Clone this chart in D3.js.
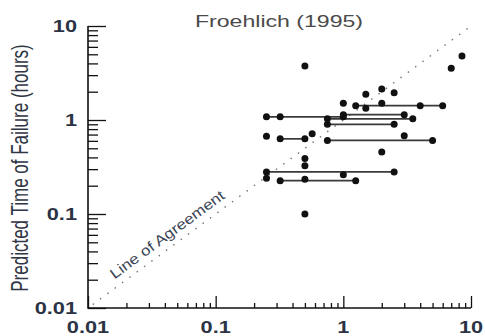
<!DOCTYPE html>
<html>
<head>
<meta charset="utf-8">
<script src="https://cdn.jsdelivr.net/npm/d3@7"></script>
<style>
  html, body { margin: 0; padding: 0; background: #fff; }
  svg { display: block; font-family: "Liberation Sans", Arial, sans-serif; }
</style>
</head>
<body>
<svg class="chart" width="485" height="336"></svg>
<script>
// observed vs predicted time of failure (hours)
const obsTime  = [0.5, 8.5, 7, 1.5, 2.0, 2.5, 1.0, 2.0, 1.25, 1.5, 4, 6,
                  0.25, 0.32, 1.0, 1.0, 3.0, 0.75, 3.5, 0.75, 2.5,
                  0.25, 0.32, 0.5, 0.57, 3.0, 0.75, 5,
                  2.0, 0.5, 0.5, 0.25, 2.5, 1.0, 0.25, 0.32, 0.5, 1.25, 0.5];
const predTime = [3.75, 4.8, 3.55, 1.88, 2.14, 1.95, 1.51, 1.51, 1.42, 1.33, 1.42, 1.42,
                  1.08, 1.08, 1.08, 1.14, 1.14, 1.03, 1.03, 0.9, 0.9,
                  0.67, 0.63, 0.63, 0.715, 0.68, 0.607, 0.607,
                  0.457, 0.39, 0.327, 0.28, 0.28, 0.262, 0.24, 0.226, 0.234, 0.226, 0.1];

// horizontal ranges of observed times
const rangeLo = [0.25, 1.0, 0.75, 0.75, 1.25, 0.32, 0.75, 0.25, 0.32];
const rangeHi = [1.0, 3.0, 3.5, 2.5, 6, 0.5, 5, 2.5, 1.25];
const rangeY  = [1.08, 1.14, 1.03, 0.9, 1.42, 0.63, 0.607, 0.28, 0.226];

const tickValues = [0.01, 0.1, 1, 10];
const tickLabels = ["0.01", "0.1", "1", "10"];

const svg = d3.select(".chart");
const sx = 1.358; // the figure is stretched sideways

const x = d3.scaleLog().domain([0.01, 10]).range([88, 471]);
const y = d3.scaleLog().domain([0.01, 10]).range([308, 26]);

const minor = [];
for (let d = 0.01; d < 10; d *= 10) {
    for (let k = 2; k <= 9; k++) minor.push(+(d * k).toPrecision(3));
}

// line of agreement
svg.append('line')
    .attr('x1', x(0.011)).attr('y1', y(0.011))
    .attr('x2', x(10)).attr('y2', y(10))
    .attr('stroke', '#777')
    .attr('stroke-width', 1.6)
    .attr('stroke-linecap', 'round')
    .attr('stroke-dasharray', '0.1,9');

// angle of the diagonal on screen
const dx = x(10) - x(0.01), dy = y(0.01) - y(10);
const ang = Math.atan2(dy, dx) * 180 / Math.PI;

svg.append('text')
    .attr('transform', `translate(${x(0.044)},${y(0.044) - 9}) rotate(${-ang})`)
    .attr('text-anchor', 'middle')
    .attr('font-size', 14.5)
    .attr('fill', '#3c4556')
    .attr('textLength', 138)
    .attr('lengthAdjust', 'spacingAndGlyphs')
    .text('Line of Agreement');

// ranges
svg.append('g').selectAll('line').data(d3.range(rangeLo.length))
    .enter().append('line')
    .attr('x1', i => x(rangeLo[i]))
    .attr('x2', i => x(rangeHi[i]))
    .attr('y1', i => y(rangeY[i]))
    .attr('y2', i => y(rangeY[i]))
    .attr('stroke', '#3a3a3a')
    .attr('stroke-width', 1.7);

// points
svg.append('g').selectAll('circle').data(d3.range(obsTime.length))
    .enter().append('circle')
    .attr('cx', i => x(obsTime[i]))
    .attr('cy', i => y(predTime[i]))
    .attr('r', 3.5)
    .attr('fill', '#111');

// axes
const axisY = svg.append('g').attr('transform', 'translate(88,0)');
axisY.call(d3.axisRight(y).tickValues(tickValues).tickSize(18).tickFormat(''));
axisY.append('g').call(d3.axisRight(y).tickValues(minor).tickSize(10).tickFormat(''));

const axisX = svg.append('g').attr('transform', 'translate(0,308)');
axisX.call(d3.axisTop(x).tickValues(tickValues).tickSize(12).tickFormat(''));
axisX.append('g').call(d3.axisTop(x).tickValues(minor).tickSize(5).tickFormat(''));

svg.selectAll('.domain').remove();
svg.selectAll('.tick line').attr('stroke', '#111').attr('stroke-width', 1.3);

svg.append('path')
    .attr('d', `M88,${y(10)}V308H${x(10)}`)
    .attr('fill', 'none')
    .attr('stroke', '#111')
    .attr('stroke-width', 1.6);

// tick labels
svg.append('g').selectAll('g').data(tickValues)
    .enter().append('g')
    .attr('transform', d => `translate(77,${y(d) + 6}) scale(${sx},1)`)
    .append('text')
    .attr('text-anchor', 'end')
    .attr('font-size', 16)
    .attr('font-weight', 'bold')
    .attr('fill', '#2b3344')
    .text((d, i) => tickLabels[i]);

svg.append('g').selectAll('g').data(tickValues)
    .enter().append('g')
    .attr('transform', d => `translate(${x(d)},333) scale(${sx},1)`)
    .append('text')
    .attr('text-anchor', 'middle')
    .attr('font-size', 16)
    .attr('font-weight', 'bold')
    .attr('fill', '#2b3344')
    .text((d, i) => tickLabels[i]);

// titles
svg.append('text')
    .attr('transform', `translate(279,27) scale(${sx},1)`)
    .attr('text-anchor', 'middle')
    .attr('font-size', 17)
    .attr('fill', '#4a4a4a')
    .text('Froehlich (1995)');

svg.append('text')
    .attr('transform', `translate(28,168) scale(${sx},1) rotate(-90)`)
    .attr('text-anchor', 'middle')
    .attr('font-size', 17)
    .attr('fill', '#2f3645')
    .text('Predicted Time of Failure (hours)');
</script>
</body>
</html>
